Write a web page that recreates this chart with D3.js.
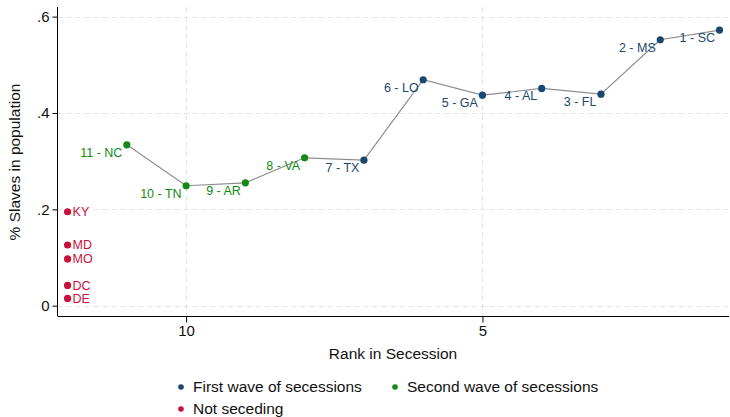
<!DOCTYPE html>
<html><head><meta charset="utf-8">
<script src="https://cdn.jsdelivr.net/npm/d3@7"></script>
<style>body{margin:0;background:#fff}svg{display:block;font-family:"Liberation Sans",Arial,sans-serif}</style>
</head><body><svg id="c" width="730" height="417"></svg>
<script>
const seceded = ["1 - SC","2 - MS","3 - FL","4 - AL","5 - GA","6 - LO","7 - TX","8 - VA","9 - AR","10 - TN","11 - NC"];
const secededRank = [1,2,3,4,5,6,7,8,9,10,11];
const secededShare = [0.572,0.552,0.439,0.451,0.437,0.469,0.302,0.307,0.255,0.249,0.334];
const secededWave = ["First","First","First","First","First","First","First","Second","Second","Second","Second"];
const notSeceding = ["KY","MD","MO","DC","DE"];
const notSecedingShare = [0.195,0.126,0.097,0.042,0.015];
const notSecedingRank = 12;
const xTicks = [10,5];
const yTicks = [0,0.2,0.4,0.6];
const yTickLabels = ["0",".2",".4",".6"];
const legendLabels = ["First wave of secessions","Second wave of secessions","Not seceding"];

const colors = {First:"#1a476f", Second:"#138a13", Not:"#c8103e"};
const svg = d3.select("#c");
const x = d3.scaleLinear().domain([12.17,0.84]).range([57.5,729]);
const y = d3.scaleLinear().domain([-0.0214,0.62]).range([316,7]);
const FF = "Liberation Sans, Arial, sans-serif";

// grid
const g = svg.append("g");
g.selectAll(".hg").data(yTicks).enter().append("line")
 .attr("x1",57.5).attr("x2",729).attr("y1",d=>Math.round(y(d))+0.5).attr("y2",d=>Math.round(y(d))+0.5)
 .attr("stroke","#e4e4e4").attr("stroke-dasharray","5,4");
g.selectAll(".vg").data(xTicks).enter().append("line")
 .attr("y1",7).attr("y2",316).attr("x1",d=>Math.round(x(d))+0.5).attr("x2",d=>Math.round(x(d))+0.5)
 .attr("stroke","#e4e4e4").attr("stroke-dasharray","5,4");

// axes
const yAxis = d3.axisLeft(y).tickValues(yTicks).tickSize(5).tickPadding(3).tickFormat((d,i)=>yTickLabels[i]);
const ya = svg.append("g").attr("transform","translate(57.5,0)").call(yAxis);
ya.select(".domain").attr("d","M0,7V316").attr("stroke","#000");
ya.selectAll("text").attr("font-size",15).attr("fill","#111").attr("font-family",FF);
const xAxis = d3.axisBottom(x).tickValues(xTicks).tickSize(6).tickPadding(3).tickFormat(d3.format("d"));
const xa = svg.append("g").attr("transform","translate(0,316.5)").call(xAxis);
xa.select(".domain").attr("d","M57.5,0H729").attr("stroke","#000");
xa.selectAll("text").attr("font-size",15).attr("fill","#111").attr("font-family",FF);

svg.append("text").attr("x",393).attr("y",358.5).attr("text-anchor","middle").attr("font-size",15.5).attr("fill","#111").text("Rank in Secession");
svg.append("text").attr("transform","translate(20,162) rotate(-90)").attr("text-anchor","middle").attr("font-size",15.5).attr("fill","#111").text("% Slaves in population");

// line
const pts = secededRank.map((r,i)=>({r, v:secededShare[i], lab:seceded[i], w:secededWave[i]}));
const sorted = pts.slice().sort((a,b)=>a.r-b.r);
svg.append("path").datum(sorted).attr("fill","none").attr("stroke","#8e8e8e").attr("stroke-width",1.2)
 .attr("d",d3.line().x(d=>x(d.r)).y(d=>y(d.v)));

svg.selectAll(".pt").data(pts).enter().append("circle")
 .attr("cx",d=>x(d.r)).attr("cy",d=>y(d.v)).attr("r",3.6).attr("fill",d=>colors[d.w]);
svg.selectAll(".pl").data(pts).enter().append("text")
 .attr("x",d=>x(d.r)-4.5).attr("y",d=>y(d.v)+7.5).attr("dy","0.35em").attr("text-anchor","end")
 .attr("font-size",12.5).attr("fill",d=>colors[d.w]).text(d=>d.lab);

const np = notSeceding.map((s,i)=>({lab:s, v:notSecedingShare[i]}));
svg.selectAll(".np").data(np).enter().append("circle")
 .attr("cx",x(notSecedingRank)).attr("cy",d=>y(d.v)).attr("r",3.6).attr("fill",colors.Not);
svg.selectAll(".nl").data(np).enter().append("text")
 .attr("x",x(notSecedingRank)+5).attr("y",d=>y(d.v)).attr("dy","0.35em")
 .attr("font-size",12.5).attr("fill",colors.Not).text(d=>d.lab);

// legend
const leg = [{lab:legendLabels[0],c:colors.First,x:181,y:387},{lab:legendLabels[1],c:colors.Second,x:395,y:387},{lab:legendLabels[2],c:colors.Not,x:181,y:409}];
leg.forEach(l=>{
  svg.append("circle").attr("cx",l.x).attr("cy",l.y).attr("r",2.8).attr("fill",l.c);
  svg.append("text").attr("x",l.x+12).attr("y",l.y).attr("dy","0.35em").attr("font-size",15.5).attr("fill","#111").text(l.lab);
});
</script></body></html>
